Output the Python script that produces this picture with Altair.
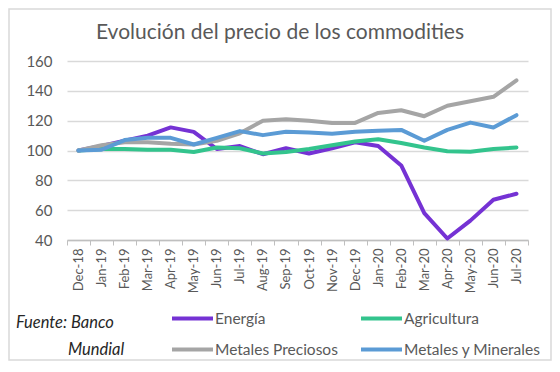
import altair as alt
import pandas as pd

months = ["Dec-18", "Jan-19", "Feb-19", "Mar-19", "Apr-19", "May-19", "Jun-19",
          "Jul-19", "Aug-19", "Sep-19", "Oct-19", "Nov-19", "Dec-19", "Jan-20",
          "Feb-20", "Mar-20", "Apr-20", "May-20", "Jun-20", "Jul-20"]
energia = [100, 103, 106.5, 110, 115.5, 112.5, 101, 103, 97.5, 101.5, 98, 101.5,
           105.5, 103, 90, 58, 41, 53, 67, 71]
agricultura = [100, 101, 101, 100.5, 100.5, 99, 102, 101.5, 98, 99, 101, 103.5,
               106, 107.5, 105, 102, 99.5, 99.2, 101, 102]
met_preciosos = [100, 103.5, 105.5, 105.5, 104.5, 104, 106.5, 111.5, 120, 121, 120,
                 118.5, 118.5, 125.2, 127, 123, 130, 133, 136, 147]
met_minerales = [100, 100.5, 107, 108.5, 108.5, 104, 108.5, 113, 110.3, 112.5, 112,
                 111.3, 112.5, 113.3, 113.8, 106.5, 113.8, 118.7, 115.4, 123.7]

series_names = ["Energía", "Agricultura", "Metales Preciosos", "Metales y Minerales"]
series_colors = ["#7532D4", "#33C48D", "#A5A5A5", "#5B9BD5"]
series_values = [energia, agricultura, met_preciosos, met_minerales]

rows = []
for name, vals in zip(series_names, series_values):
    for m, v in zip(months, vals):
        rows.append({"mes": m, "serie": name, "valor": v})
df = pd.DataFrame(rows)

FONT = "Lato"
GREY = "#595959"
FRAME = "#d9d9d9"

x_enc = alt.X("mes:O", sort=months, bandPosition=0.5,
              scale=alt.Scale(type="band", paddingInner=0, paddingOuter=0),
              axis=alt.Axis(title=None, labelAngle=-90, labelFontSize=13, labelColor=GREY,
                            labelFont=FONT, tickBand="extent", tickSize=5, tickColor="#bfbfbf",
                            domainColor="#bfbfbf", domainWidth=1.5, labelPadding=3, grid=False))
y_enc = alt.Y("valor:Q", scale=alt.Scale(domain=[40, 160], nice=False, zero=False),
              axis=alt.Axis(title=None, values=[40, 60, 80, 100, 120, 140, 160], ticks=False,
                            domain=False, labelFontSize=15, labelColor=GREY, labelFont=FONT,
                            labelPadding=15, gridColor=FRAME, gridWidth=1.5))
c_enc = alt.Color("serie:N", sort=series_names,
                  scale=alt.Scale(domain=series_names, range=series_colors),
                  legend=alt.Legend(title=None, orient="none", legendX=103, legendY=235,
                                    direction="horizontal", columns=2, columnPadding=15,
                                    rowPadding=-19, symbolType="stroke", symbolSize=1681,
                                    symbolStrokeWidth=4, labelFontSize=15.5, labelFont=FONT,
                                    labelColor=GREY, labelOffset=0))

series_layers = [
    alt.Chart(df).transform_filter(alt.datum.serie == name)
    .mark_line(strokeWidth=4, strokeCap="round", strokeJoin="round")
    .encode(x=x_enc, y=y_enc, color=c_enc)
    for name in series_names
]

one = pd.DataFrame({"k": [0]})

frame = alt.Chart(one).mark_rect(fill="#ffffff", fillOpacity=0, stroke=FRAME,
                                 strokeWidth=1.5).encode(
    x=alt.value(-58), x2=alt.value(484), y=alt.value(-52), y2=alt.value(299))

title = alt.Chart(one).mark_text(text="Evolución del precio de los commodities", align="center",
                                 baseline="alphabetic", font=FONT, fontSize=21, color=GREY).encode(
    x=alt.value(213), y=alt.value(-22))

fuente1 = alt.Chart(one).mark_text(text="Fuente: Banco", align="left", baseline="middle",
                                   font=FONT, fontSize=16.5, fontStyle="italic", color="#262626").encode(
    x=alt.value(-51), y=alt.value(262))
fuente2 = alt.Chart(one).mark_text(text="Mundial", align="left", baseline="middle",
                                   font=FONT, fontSize=16.5, fontStyle="italic", color="#262626").encode(
    x=alt.value(1), y=alt.value(289))

chart = alt.layer(frame, *series_layers, title, fuente1, fuente2).properties(
    width=461, height=179,
    autosize=alt.AutoSizeParams(type="none"),
    padding={"left": 59, "top": 53, "right": 24, "bottom": 124},
).configure_view(stroke=None)

chart.save("out.html", embed_options={"renderer": "svg", "actions": False})
